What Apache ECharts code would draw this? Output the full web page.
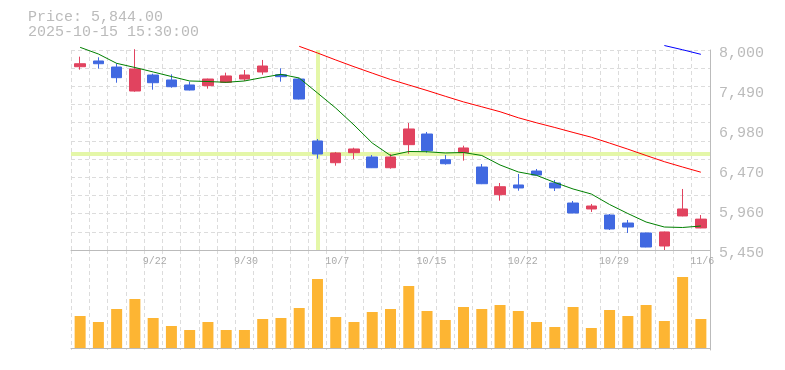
<!DOCTYPE html>
<html>
<head>
<meta charset="utf-8">
<script src="https://cdn.jsdelivr.net/npm/echarts@6/dist/echarts.min.js"></script>
<style>
html,body{margin:0;padding:0;background:#fff;}
#main{width:785px;height:370px;}
</style>
</head>
<body>
<div id="main"></div>
<script>
const categories = ['9/16','9/17','9/18','9/19','9/22','9/24','9/25','9/26','9/29','9/30',
  '10/1','10/2','10/3','10/6','10/7','10/8','10/9','10/10','10/14','10/15',
  '10/16','10/17','10/20','10/21','10/22','10/23','10/24','10/27','10/28','10/29',
  '10/30','10/31','11/4','11/5','11/6'];
const openP  = [7787,7860,7783,7477,7681,7618,7554,7545,7588,7630,7720,7685,7630,6840,6563,6691,6636,6499,6793,6929,6601,6691,6508,6155,6279,6457,6304,6049,5973,5896,5794,5667,5501,5884,5731];
const closeP = [7825,7825,7647,7758,7583,7532,7490,7630,7669,7681,7796,7660,7375,6674,6687,6738,6499,6636,6993,6716,6550,6751,6295,6257,6241,6406,6241,5922,6011,5718,5743,5488,5680,5973,5844];
const lowP   = [7749,7762,7583,7468,7494,7519,7485,7507,7580,7605,7685,7596,7370,6614,6525,6610,6495,6487,6678,6691,6538,6589,6290,6079,6206,6400,6202,5918,5935,5705,5667,5485,5450,5880,5728];
const highP  = [7915,7907,7830,8010,7698,7690,7596,7635,7711,7745,7873,7767,7640,6865,6700,6754,6661,6674,7069,6955,6661,6780,6546,6304,6419,6483,6343,6075,6037,5909,5833,5670,5685,6228,5896];
const ma5  = [8034,7949,7830,7777,7720,7662,7605,7598,7588,7605,7649,7690,7643,7452,7260,7044,6814,6655,6706,6703,6687,6693,6655,6534,6445,6402,6311,6228,6164,6030,5915,5807,5743,5737,5756];
const ma25 = [null,null,null,null,null,null,null,null,null,null,null,null,
  8047,7962,7873,7787,7705,7624,7554,7484,7410,7338,7276,7213,7136,7072,7012,6949,6888,6813,6736,6655,6576,6508,6442];
const ma75 = [null,null,null,null,null,null,null,null,null,null,null,null,null,null,null,null,
  null,null,null,null,null,null,null,null,null,null,null,null,null,null,null,null,8057,8003,7945];
const volume = [32,26,39,49,30,22,18,26,18,18,29,30,40,69,31,26,36,39,62,37,28,41,39,43,37,26,21,41,20,38,32,43,27,71,29];
const priceTicks = [5450,5960,6470,6980,7490,8000];
const xLabelIdx = [4,9,14,19,24,29,34];
const headerPrice = 'Price: 5,844.00';
const headerDate = '2025-10-15 15:30:00';
const crossCategory = '10/6';
const crossPrice = 6683;

const candleData = categories.map((c,i)=>[openP[i],closeP[i],lowP[i],highP[i]]);
const mono = 'Liberation Mono';
const gridLine = {show:true, lineStyle:{color:'#dcdcdc', type:[4,3], width:1}};

const chart = echarts.init(document.getElementById('main'), null, {renderer:'canvas'});
chart.setOption({
  animation:false,
  backgroundColor:'#fff',
  graphic:[
    {type:'text', left:28, top:10, style:{text:headerPrice, fill:'#bbbbbb', font:'15px "Liberation Mono"'}},
    {type:'text', left:28, top:25, style:{text:headerDate, fill:'#bbbbbb', font:'15px "Liberation Mono"'}}
  ],
  grid:[
    {left:71, right:75, top:50, height:200},
    {left:71, right:75, top:250, height:100}
  ],
  xAxis:[
    {type:'category', gridIndex:0, data:categories, boundaryGap:true,
     axisLine:{show:true, lineStyle:{color:'#bbbbbb'}}, axisTick:{show:false},
     axisLabel:{interval:(i)=>xLabelIdx.indexOf(i)>=0, margin:6,
       formatter:(v)=>'{a|'+v+'}',
       rich:{a:{width:21, align:'left', fontSize:10, color:'#aaaaaa', fontFamily:mono}}},
     splitLine:Object.assign({interval:0}, gridLine)},
    {type:'category', gridIndex:1, data:categories, boundaryGap:true,
     axisLine:{show:true, lineStyle:{color:'#bbbbbb'}}, axisTick:{show:false},
     axisLabel:{show:false}, splitLine:Object.assign({interval:0}, gridLine)}
  ],
  yAxis:[
    {type:'value', gridIndex:0, position:'right', min:5450, max:8000, scale:true,
     axisLine:{show:true, lineStyle:{color:'#bbbbbb'}}, axisTick:{show:false},
     axisLabel:{customValues:priceTicks, margin:9,
       formatter:(v)=>'{v|'+v.toLocaleString('en-US')+'}',
       rich:{v:{fontSize:15, color:'#bbbbbb', fontFamily:mono, padding:[7,0,0,0]}}},
     splitLine:{show:false}},
    {type:'value', gridIndex:0, position:'left', min:0, max:11, interval:1,
     axisLine:{show:false}, axisTick:{show:false}, axisLabel:{show:false}, splitLine:gridLine},
    {type:'value', gridIndex:1, position:'right', min:-2, max:98,
     axisLine:{show:true, lineStyle:{color:'#bbbbbb'}}, axisTick:{show:false}, axisLabel:{show:false}, splitLine:{show:false}}
  ],
  series:[
    {type:'line', xAxisIndex:0, yAxisIndex:0, data:[], z:1, silent:true,
     markLine:{silent:true, z:1, symbol:['none','none'], label:{show:false}, animation:false,
       lineStyle:{color:'#e4f7a8', width:4, type:'solid', opacity:1},
       emphasis:{disabled:true},
       data:[{xAxis:crossCategory},{yAxis:crossPrice}]}},
    {type:'candlestick', xAxisIndex:0, yAxisIndex:0, data:candleData, barWidth:11, z:3,
     itemStyle:{color:'#e1435f', color0:'#4169e1', borderColor:'#e1435f', borderColor0:'#4169e1', borderWidth:1}},
    {type:'line', xAxisIndex:0, yAxisIndex:0, data:ma5, symbol:'none', clip:false, z:4,
     lineStyle:{color:'#008000', width:1}},
    {type:'line', xAxisIndex:0, yAxisIndex:0, data:ma25, symbol:'none', clip:false, z:4,
     lineStyle:{color:'#ff0000', width:1}},
    {type:'line', xAxisIndex:0, yAxisIndex:0, data:ma75, symbol:'none', clip:false, z:4,
     lineStyle:{color:'#0000ff', width:1}},
    {type:'bar', xAxisIndex:1, yAxisIndex:2, data:volume, barWidth:11, z:3,
     itemStyle:{color:'#fdb533'}}
  ]
});
</script>
</body>
</html>
